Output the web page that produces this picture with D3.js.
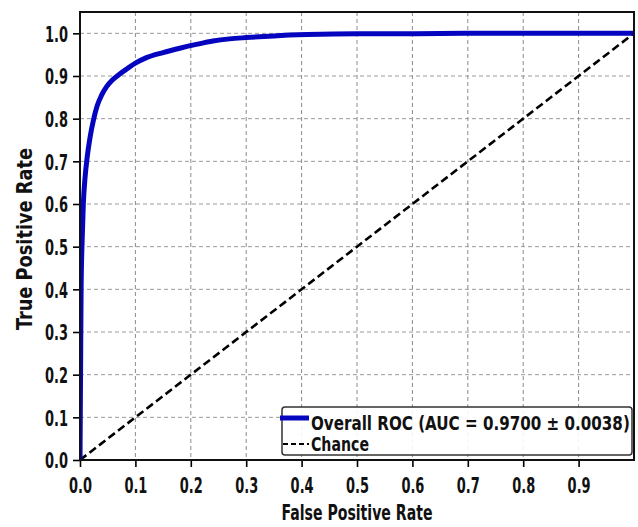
<!DOCTYPE html>
<html>
<head>
<meta charset="utf-8">
<script src="https://cdn.jsdelivr.net/npm/d3@7"></script>
<style>
  html, body { margin: 0; padding: 0; background: #fff; }
  svg { display: block; }
  text { font-family: "DejaVu Sans Condensed", "DejaVu Sans", sans-serif; font-weight: bold; fill: #111; }
</style>
</head>
<body>
<svg id="chart" width="638" height="527"></svg>
<script>
// ROC curve points (false positive rate, true positive rate)
const fpr = [0, 0.001, 0.002, 0.004, 0.006, 0.009, 0.013, 0.018, 0.024, 0.031, 0.039, 0.048, 0.058, 0.07, 0.085, 0.1, 0.12, 0.15, 0.18, 0.21, 0.24, 0.27, 0.3, 0.35, 0.41, 0.5, 0.6, 0.7, 0.8, 0.9, 1.0];
const tpr = [0, 0.2, 0.4, 0.52, 0.6, 0.66, 0.71, 0.755, 0.795, 0.83, 0.855, 0.875, 0.89, 0.903, 0.917, 0.93, 0.943, 0.955, 0.965, 0.974, 0.982, 0.987, 0.99, 0.994, 0.997, 0.999, 0.999, 1.0, 1.0, 1.0, 1.0];

// Chance diagonal
const chanceX = [0, 1];
const chanceY = [0, 1];

const aucMean = "0.9700";
const aucStd = "0.0038";

const xTicks = [0, 0.1, 0.2, 0.3, 0.4, 0.5, 0.6, 0.7, 0.8, 0.9];
const yTicks = [0, 0.1, 0.2, 0.3, 0.4, 0.5, 0.6, 0.7, 0.8, 0.9, 1.0];

const svg = d3.select("#chart");
const m = { left: 80, right: 634, top: 12, bottom: 460 };

const x = d3.scaleLinear().domain([0, 1]).range([m.left, m.right]);
const y = d3.scaleLinear().domain([0, 1.05]).range([m.bottom, m.top]);

// squeeze a text horizontally so that it spans the given width
function fitWidth(sel, px, py, width) {
  const natural = sel.node().getComputedTextLength();
  sel.attr("x", 0).attr("y", 0)
     .attr("transform", `translate(${px},${py}) scale(${width / natural},1)`);
}

svg.append("defs").append("clipPath").attr("id", "plotClip")
  .append("rect")
  .attr("x", m.left).attr("y", m.top)
  .attr("width", m.right - m.left).attr("height", m.bottom - m.top);

// grid
const grid = svg.append("g");
grid.selectAll(".gx").data(xTicks.filter(d => d > 0)).join("line")
  .attr("x1", d => x(d)).attr("x2", d => x(d))
  .attr("y1", m.top).attr("y2", m.bottom)
  .attr("stroke", "#8a8a8a").attr("stroke-width", 1).attr("stroke-dasharray", "4,3");
grid.selectAll(".gy").data(yTicks.filter(d => d > 0)).join("line")
  .attr("x1", m.left).attr("x2", m.right)
  .attr("y1", d => y(d)).attr("y2", d => y(d))
  .attr("stroke", "#9a9a9a").attr("stroke-width", 1).attr("stroke-dasharray", "4,3");

const plot = svg.append("g").attr("clip-path", "url(#plotClip)");

// chance line
const chance = chanceX.map((d, i) => [d, chanceY[i]]);
plot.append("path")
  .attr("d", d3.line().x(d => x(d[0])).y(d => y(d[1]))(chance))
  .attr("fill", "none").attr("stroke", "#000").attr("stroke-width", 2.6)
  .attr("stroke-dasharray", "8,4");

// ROC curve
const roc = fpr.map((d, i) => [d, tpr[i]]);
plot.append("path")
  .attr("d", d3.line().x(d => x(d[0])).y(d => y(d[1])).curve(d3.curveMonotoneX)(roc))
  .attr("fill", "none").attr("stroke", "#0505c0").attr("stroke-width", 5)
  .attr("stroke-linejoin", "round");

// axes
const xAxis = svg.append("g").attr("transform", `translate(0,${m.bottom})`)
  .call(d3.axisBottom(x).tickValues(xTicks).tickFormat(d3.format(".1f")).tickSize(7).tickSizeOuter(0));
const yAxis = svg.append("g").attr("transform", `translate(${m.left},0)`)
  .call(d3.axisLeft(y).tickValues(yTicks).tickFormat(d3.format(".1f")).tickSize(7).tickSizeOuter(0));

[xAxis, yAxis].forEach(a => {
  a.select(".domain").remove();
  a.selectAll(".tick line").attr("stroke", "#000").attr("stroke-width", 1.6);
  a.selectAll(".tick text")
    .attr("font-size", 21.5).attr("fill", "#111")
    .attr("font-family", "'DejaVu Sans Condensed', 'DejaVu Sans', sans-serif")
    .attr("font-weight", "bold")
    .attr("textLength", 23).attr("lengthAdjust", "spacingAndGlyphs");
});
xAxis.selectAll(".tick text").attr("y", 33).attr("dy", 0);
yAxis.selectAll(".tick text").attr("x", -12).attr("dy", "0.36em");

// frame
svg.append("rect")
  .attr("x", m.left).attr("y", m.top)
  .attr("width", m.right - m.left).attr("height", m.bottom - m.top)
  .attr("fill", "none").attr("stroke", "#111").attr("stroke-width", 2);

// axis titles
svg.append("text")
  .attr("x", (m.left + m.right) / 2).attr("y", 520)
  .attr("text-anchor", "middle").attr("font-size", 20.5)
  .attr("textLength", 151).attr("lengthAdjust", "spacingAndGlyphs")
  .text("False Positive Rate");
svg.append("text")
  .attr("transform", "translate(32,239) rotate(-90)")
  .attr("text-anchor", "middle").attr("font-size", 20.5)
  .attr("textLength", 182).attr("lengthAdjust", "spacingAndGlyphs")
  .text("True Positive Rate");

// legend
const lg = svg.append("g");
lg.append("rect")
  .attr("x", 282).attr("y", 407).attr("width", 350).attr("height", 48)
  .attr("rx", 3).attr("fill", "#fff").attr("fill-opacity", 0.9)
  .attr("stroke", "#333").attr("stroke-width", 1.5);
lg.append("line")
  .attr("x1", 280).attr("x2", 309).attr("y1", 418).attr("y2", 418)
  .attr("stroke", "#0505c0").attr("stroke-width", 5);
const rocLabel = lg.append("text").attr("font-size", 19)
  .text(`Overall ROC (AUC = ${aucMean} \u00b1 ${aucStd})`);
fitWidth(rocLabel, 311, 430, 319);
lg.append("line")
  .attr("x1", 283).attr("x2", 309).attr("y1", 444).attr("y2", 444)
  .attr("stroke", "#000").attr("stroke-width", 2).attr("stroke-dasharray", "5,3");
const chanceLabel = lg.append("text").attr("font-size", 19).text("Chance");
fitWidth(chanceLabel, 311, 451, 58);
</script>
</body>
</html>
